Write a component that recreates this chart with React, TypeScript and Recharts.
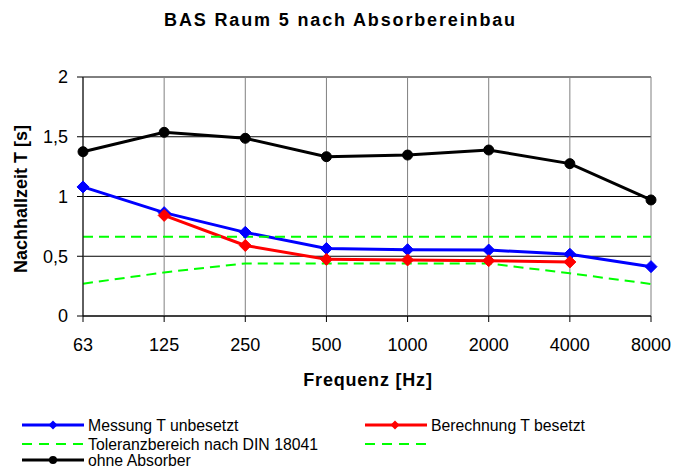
import React from 'react';
import { LineChart, Line, XAxis, YAxis, CartesianGrid } from 'recharts';

const frequencies = ['63', '125', '250', '500', '1000', '2000', '4000', '8000'];
const messungUnbesetzt = [1.08, 0.865, 0.7, 0.565, 0.555, 0.552, 0.517, 0.413];
const berechnungBesetzt: (number | null)[] = [null, 0.842, 0.59, 0.474, 0.469, 0.463, 0.452, null];
const toleranzOben = [0.664, 0.664, 0.664, 0.664, 0.664, 0.664, 0.664, 0.664];
const toleranzUnten = [0.27, 0.365, 0.44, 0.44, 0.44, 0.44, 0.357, 0.268];
const ohneAbsorber = [1.375, 1.537, 1.487, 1.333, 1.347, 1.389, 1.275, 0.971];
const yTicks = [0, 0.5, 1, 1.5, 2];

const seriesNames = {
  messung: 'Messung T unbesetzt',
  berechnung: 'Berechnung T besetzt',
  tolOben: 'Toleranzbereich nach DIN 18041',
  tolUnten: '',
  ohne: 'ohne Absorber',
};

const data = frequencies.map((f, i) => ({
  freq: f,
  messung: messungUnbesetzt[i],
  berechnung: berechnungBesetzt[i],
  tolOben: toleranzOben[i],
  tolUnten: toleranzUnten[i],
  ohne: ohneAbsorber[i],
}));

const FONT = '"Liberation Sans", Arial, sans-serif';

const makeDiamond = (color: string, r: number) => (props: any) => {
  const { cx, cy, index, value } = props;
  if (cx == null || cy == null || value == null) return <g key={`d-${color}-${index}`} />;
  return (
    <path
      key={`d-${color}-${index}`}
      d={`M${cx},${cy - r} L${cx + r},${cy} L${cx},${cy + r} L${cx - r},${cy} Z`}
      fill={color}
      stroke={color}
      strokeWidth={1}
    />
  );
};

const makeCircle = (color: string, r: number) => (props: any) => {
  const { cx, cy, index } = props;
  if (cx == null || cy == null) return <g key={`c-${index}`} />;
  return <circle key={`c-${index}`} cx={cx} cy={cy} r={r} fill={color} stroke={color} />;
};

const LegendBlock = () => {
  const rows = [15, 34, 50];
  const txt = { fontFamily: FONT, fontSize: 15.8, fill: '#000' } as const;
  const dy = 5.5;
  return (
    <svg width={685} height={57} style={{ position: 'absolute', left: 0, top: 410 }}>
      <line x1={22} x2={84} y1={rows[0]} y2={rows[0]} stroke="#0000ff" strokeWidth={3} />
      <path d={`M53,${rows[0] - 4.5} L57.5,${rows[0]} L53,${rows[0] + 4.5} L48.5,${rows[0]} Z`} fill="#0000ff" />
      <text x={88} y={rows[0] + dy} {...txt}>{seriesNames.messung}</text>

      <line x1={365} x2={427} y1={rows[0]} y2={rows[0]} stroke="#ff0000" strokeWidth={3} />
      <path d={`M395,${rows[0] - 4.5} L399.5,${rows[0]} L395,${rows[0] + 4.5} L390.5,${rows[0]} Z`} fill="#ff0000" />
      <text x={431} y={rows[0] + dy} {...txt}>{seriesNames.berechnung}</text>

      <line x1={22} x2={84} y1={rows[1]} y2={rows[1]} stroke="#00ff00" strokeWidth={2} strokeDasharray="10 7" />
      <text x={88} y={rows[1] + dy} {...txt}>{seriesNames.tolOben}</text>
      <line x1={365} x2={427} y1={rows[1]} y2={rows[1]} stroke="#00ff00" strokeWidth={2} strokeDasharray="10 7" />

      <line x1={22} x2={84} y1={rows[2]} y2={rows[2]} stroke="#000" strokeWidth={3} />
      <circle cx={53} cy={rows[2]} r={4} fill="#000" />
      <text x={88} y={rows[2] + dy} {...txt}>{seriesNames.ohne}</text>
    </svg>
  );
};

export default function App() {
  return (
    <div style={{ position: 'absolute', left: 0, top: 0, width: 685, height: 467, background: '#fff', fontFamily: FONT }}>
      <div
        style={{
          position: 'absolute',
          left: 0,
          top: 8,
          width: 685,
          textAlign: 'center',
          fontWeight: 'bold',
          fontSize: 18,
          letterSpacing: 1.85,
          lineHeight: '24px',
          marginLeft: -2,
        }}
      >
        BAS Raum 5 nach Absorbereinbau
      </div>
      <div
        style={{
          position: 'absolute',
          left: 21 - 100,
          top: 199 - 12,
          width: 200,
          height: 24,
          lineHeight: '24px',
          textAlign: 'center',
          fontWeight: 'bold',
          fontSize: 18,
          transform: 'rotate(-90deg)',
        }}
      >
        Nachhallzeit T [s]
      </div>
      <div
        style={{
          position: 'absolute',
          left: 368 - 100,
          top: 380 - 12,
          width: 200,
          height: 24,
          lineHeight: '24px',
          textAlign: 'center',
          fontWeight: 'bold',
          fontSize: 18,
          letterSpacing: 0.8,
        }}
      >
        Frequenz [Hz]
      </div>
      <div style={{ position: 'absolute', left: 0, top: 0 }}>
        <LineChart width={685} height={467} data={data} margin={{ top: 77, right: 34, bottom: 121, left: 23 }}>
          <CartesianGrid vertical={false} stroke="#000" strokeWidth={1} />
          <CartesianGrid horizontal={false} stroke="#808080" strokeWidth={1} />
          <XAxis
            dataKey="freq"
            tickSize={6}
            tickMargin={16}
            axisLine={{ stroke: '#000' }}
            tickLine={{ stroke: '#000' }}
            tick={{ fontSize: 18, fill: '#000', fontFamily: FONT }}
            interval={0}
            height={30}
          />
          <YAxis
            type="number"
            domain={[0, 2]}
            ticks={yTicks}
            width={60}
            tickSize={6}
            tickMargin={9}
            axisLine={{ stroke: '#000' }}
            tickLine={{ stroke: '#000' }}
            tick={{ fontSize: 18, fill: '#000', fontFamily: FONT }}
            tickFormatter={(v: number) => String(v).replace('.', ',')}
          />
          <Line
            dataKey="messung"
            name={seriesNames.messung}
            stroke="#0000ff"
            strokeWidth={3}
            dot={makeDiamond('#0000ff', 6)}
            isAnimationActive={false}
          />
          <Line
            dataKey="berechnung"
            name={seriesNames.berechnung}
            stroke="#ff0000"
            strokeWidth={3}
            dot={makeDiamond('#ff0000', 6)}
            isAnimationActive={false}
          />
          <Line
            dataKey="tolOben"
            name={seriesNames.tolOben}
            stroke="#00ff00"
            strokeWidth={2}
            strokeDasharray="10 6"
            dot={false}
            isAnimationActive={false}
          />
          <Line
            dataKey="tolUnten"
            name="Toleranzbereich unten"
            stroke="#00ff00"
            strokeWidth={2}
            strokeDasharray="10 6"
            dot={false}
            isAnimationActive={false}
          />
          <Line
            dataKey="ohne"
            name={seriesNames.ohne}
            stroke="#000"
            strokeWidth={3}
            dot={makeCircle('#000', 5)}
            isAnimationActive={false}
          />
        </LineChart>
      </div>
      <LegendBlock />
    </div>
  );
}
